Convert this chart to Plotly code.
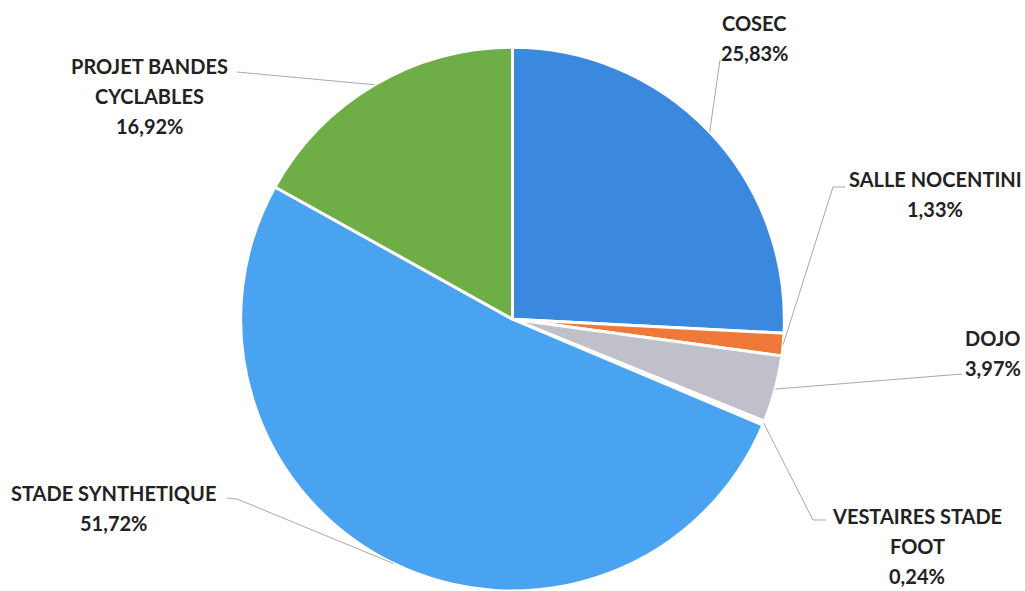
import math
import plotly.graph_objects as go

# Répartition des investissements
categories = ["COSEC", "SALLE NOCENTINI", "DOJO", "VESTAIRES STADE FOOT",
              "STADE SYNTHETIQUE", "PROJET BANDES CYCLABLES"]
shares = [25.83, 1.33, 3.97, 0.24, 51.72, 16.92]
label_lines = [
    ["COSEC"],
    ["SALLE NOCENTINI"],
    ["DOJO"],
    ["VESTAIRES STADE", "FOOT"],
    ["STADE SYNTHETIQUE"],
    ["PROJET BANDES", "CYCLABLES"],
]
colors = ["#3a89df", "#f07838", "#c0c0cb", "#f7f7f7", "#4aa3f1", "#6fad46"]

W, H = 1025, 591
DOM_X = [0.2, 0.8]
DOM_Y = [0.0, 0.92]

# Label placement (centre x, first line y, in pixels) and leader elbow/end points
label_pos = [
    (754, 23, None, (720, 60)),
    (935, 179, (833, 187), (845, 187)),
    (993, 338, None, (962, 374)),
    (917, 516, (813, 520), (826, 520)),
    (113, 493, (237, 499), (227, 498)),
    (149, 66, None, (237, 72)),
]
LINE_GAP = 30

fig = go.Figure(go.Pie(
    labels=categories,
    values=shares,
    sort=False,
    direction="clockwise",
    rotation=0,
    marker=dict(colors=colors, line=dict(color="white", width=3)),
    textinfo="none",
    hoverinfo="label+percent",
    domain=dict(x=DOM_X, y=DOM_Y),
    showlegend=False,
))

# Pie geometry in pixels (plotly fits the circle into the smaller domain side)
dw = (DOM_X[1] - DOM_X[0]) * W
dh = (DOM_Y[1] - DOM_Y[0]) * H
radius = min(dw, dh) / 2
cx = (DOM_X[0] + DOM_X[1]) / 2 * W
cy = H - (DOM_Y[0] + DOM_Y[1]) / 2 * H


def px(x):
    return x / W


def py(y):
    return 1 - y / H


total = sum(shares)
annotations = []
shapes = []
cum = 0.0
for name, val, lines, (lx, ly, elbow, end) in zip(categories, shares, label_lines, label_pos):
    mid = (cum + val / 2) / total * 2 * math.pi
    cum += val
    sx = cx + radius * math.sin(mid)
    sy = cy - radius * math.cos(mid)
    pts = [(sx, sy)]
    if elbow:
        pts.append(elbow)
    pts.append(end)
    path = "M " + " L ".join(f"{px(x):.5f},{py(y):.5f}" for x, y in pts)
    shapes.append(dict(type="path", path=path, xref="paper", yref="paper",
                       line=dict(color="#a8a8a8", width=1)))
    pct = f"{val:.2f}%".replace(".", ",")
    for i, txt in enumerate(lines + [pct]):
        annotations.append(dict(
            x=px(lx), y=py(ly + i * LINE_GAP), xref="paper", yref="paper",
            text=f"<b>{txt}</b>", showarrow=False,
            xanchor="center", yanchor="middle",
            font=dict(family="Lato", size=20, color="#222222"),
        ))

fig.update_layout(
    width=W, height=H,
    margin=dict(l=0, r=0, t=0, b=0),
    paper_bgcolor="white",
    plot_bgcolor="white",
    annotations=annotations,
    shapes=shapes,
)

fig.write_html("out.html")
